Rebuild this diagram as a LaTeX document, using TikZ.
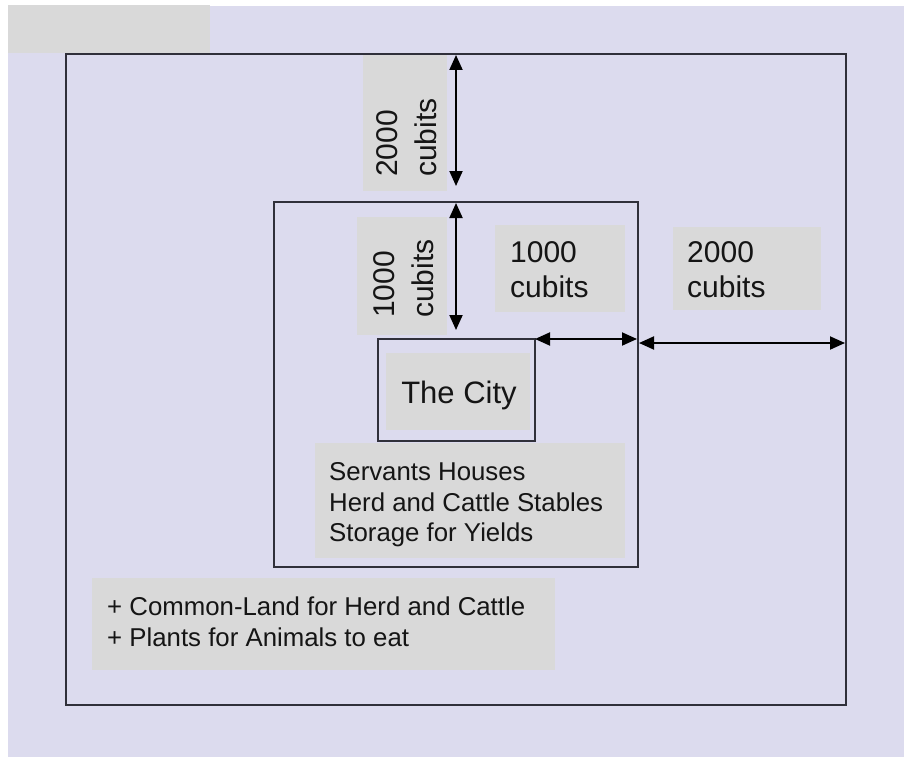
\documentclass[tikz,border=0pt]{standalone}
\usepackage{fontspec}
\setmainfont{Liberation Sans}
\usetikzlibrary{arrows.meta}
\definecolor{lav}{HTML}{DCDBEE}
\definecolor{gbox}{HTML}{D9D9D9}
\definecolor{frm}{HTML}{30303A}
\definecolor{txt}{HTML}{151515}
\tikzset{
  graybox/.style={fill=gbox, draw=none, anchor=north west, inner sep=0pt, outer sep=0pt},
  frame/.style={draw=frm, line width=2.4pt, anchor=north west, inner sep=0pt, outer sep=0pt, fill=none},
  dim/.style={draw=black, line width=1.9pt, {Triangle[length=15pt,width=13pt]}-{Triangle[length=15pt,width=13pt]}},
  big/.style={font=\fontsize{30}{35}\selectfont, text=txt, inner sep=0pt, anchor=base west},
  city/.style={font=\fontsize{31}{36}\selectfont, text=txt, inner sep=0pt, anchor=base},
  list/.style={font=\fontsize{25.8}{30}\selectfont, text=txt, inner sep=0pt, anchor=base west},
}
\begin{document}
\begin{tikzpicture}[x=1pt,y=-1pt]
\useasboundingbox (0,0) rectangle (904,757);
\fill[white] (0,0) rectangle (904,757);
\fill[lav] (8,6) rectangle (904,757);
% gray boxes
\node[graybox, minimum width=202pt, minimum height=48pt] (tl) at (8,5) {};
\node[graybox, minimum width=84pt, minimum height=136pt] (g2v) at (363,55) {};
\node[graybox, minimum width=90pt, minimum height=118pt] (g1v) at (357,217) {};
\node[graybox, minimum width=130pt, minimum height=87pt] (g1h) at (495,225) {};
\node[graybox, minimum width=148pt, minimum height=83pt] (g2h) at (673,227) {};
\node[graybox, minimum width=144pt, minimum height=77pt] (gc) at (386,353) {};
\node[graybox, minimum width=310pt, minimum height=115pt] (gs) at (315,443) {};
\node[graybox, minimum width=463pt, minimum height=92pt] (gcm) at (92,578) {};
% frames
\node[frame, minimum width=780pt, minimum height=651pt] (outer) at (66,54) {};
\node[frame, minimum width=364pt, minimum height=365pt] (middle) at (274,202) {};
\node[frame, minimum width=157pt, minimum height=102pt] (cityr) at (378,339) {};
% arrows
\coordinate (a1s) at (456,55);
\coordinate (a1e) at (456,186);
\coordinate (a2s) at (456,203);
\coordinate (a2e) at (456,330);
\coordinate (a3s) at (535,339);
\coordinate (a3e) at (637,339);
\coordinate (a4s) at (639,343);
\coordinate (a4e) at (845,343);
\draw[dim] (a1s) -- (a1e);
\draw[dim] (a2s) -- (a2e);
\draw[dim] (a3s) -- (a3e);
\draw[dim] (a4s) -- (a4e);
% texts
\node[big, rotate=90] (t2a) at (397,177) {2000};
\node[big, rotate=90] (t2b) at (436,177) {cubits};
\node[big, rotate=90] (t1a) at (394,318) {1000};
\node[big, rotate=90] (t1b) at (433,318) {cubits};
\node[big] (h1a) at (510,262) {1000};
\node[big] (h1b) at (510,297) {cubits};
\node[big] (h2a) at (687,262) {2000};
\node[big] (h2b) at (687,297) {cubits};
\node[city] (tc) at (459,403) {The City};
\node[list] (s1) at (329,480) {Servants Houses};
\node[list] (s2) at (329,511) {Herd and Cattle Stables};
\node[list] (s3) at (329,541) {Storage for Yields};
\node[list] (c1) at (107,615) {+ Common-Land for Herd and Cattle};
\node[list] (c2) at (107,646) {+ Plants for Animals to eat};
\end{tikzpicture}
\end{document}
